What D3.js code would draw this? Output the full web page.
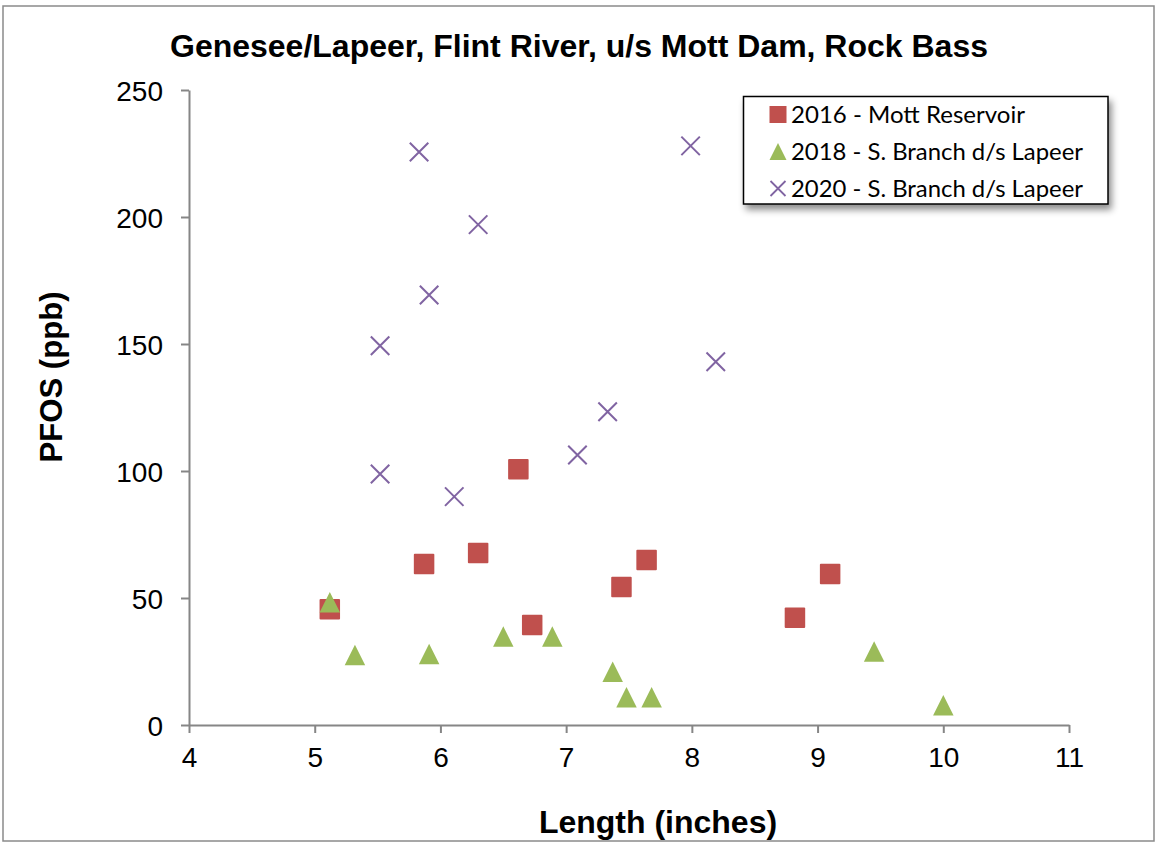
<!DOCTYPE html>
<html>
<head>
<meta charset="utf-8">
<script src="https://cdn.jsdelivr.net/npm/d3@7"></script>
<style>
  html, body { margin: 0; padding: 0; background: #fff; }
  svg { display: block; }
</style>
</head>
<body>
<svg id="chart" width="1156" height="842"></svg>
<script>
// ---- Data ----
const titleText = "Genesee/Lapeer, Flint River, u/s Mott Dam, Rock Bass";
const xLabel = "Length (inches)";
const yLabel = "PFOS (ppb)";
const xTicks = [4, 5, 6, 7, 8, 9, 10, 11];
const yTicks = [0, 50, 100, 150, 200, 250];

const seriesNames = ["2016 - Mott Reservoir", "2018 - S. Branch d/s Lapeer", "2020 - S. Branch d/s Lapeer"];

const len2016 = [5.12, 5.87, 6.30, 6.62, 6.73, 7.44, 7.64, 8.82, 9.10];
const pfos2016 = [45.6, 63.4, 67.7, 100.7, 39.4, 54.3, 65.0, 42.2, 59.4];

const len2018 = [5.12, 5.32, 5.91, 6.50, 6.89, 7.37, 7.48, 7.68, 9.45, 10.00];
const pfos2018 = [48.3, 27.6, 28.0, 34.8, 34.8, 21.0, 10.9, 10.9, 28.9, 7.8];

const len2020 = [5.83, 6.30, 5.91, 5.52, 5.52, 6.11, 7.99, 8.19, 7.33, 7.09];
const pfos2020 = [225.6, 197.0, 169.3, 149.3, 98.8, 89.9, 228.0, 143.0, 123.3, 106.3];

// ---- Layout ----
const svg = d3.select("#chart");
const W = 1156, H = 842;
const plot = { left: 189, right: 1069, top: 90, bottom: 725 };
const axisColor = "#868686";
const cRed = "#C0504D", cGreen = "#9BBB59", cPurple = "#8064A2";

svg.append("rect").attr("x", 0).attr("y", 0).attr("width", W).attr("height", H).attr("fill", "#fff");
svg.append("rect").attr("x", 3).attr("y", 6).attr("width", 1151).attr("height", 835)
  .attr("fill", "none").attr("stroke", "#8a8a8a").attr("stroke-width", 1.5);

const x = d3.scaleLinear().domain([4, 11]).range([plot.left, plot.right]);
const y = d3.scaleLinear().domain([0, 250]).range([plot.bottom, plot.top]);

// Title
svg.append("text")
  .attr("x", 579).attr("y", 57)
  .attr("text-anchor", "middle")
  .attr("font-family", "Liberation Sans, Arial, sans-serif")
  .attr("font-weight", "bold").attr("font-size", 32)
  .attr("textLength", 818).attr("lengthAdjust", "spacingAndGlyphs")
  .text(titleText);

// Axes
const xAxis = d3.axisBottom(x).tickValues(xTicks).tickSizeInner(8).tickSizeOuter(0).tickPadding(14)
  .tickFormat(d3.format("d"));
const yAxis = d3.axisLeft(y).tickValues(yTicks).tickSizeInner(8).tickSizeOuter(0).tickPadding(18)
  .tickFormat(d3.format("d"));

const gx = svg.append("g").attr("transform", `translate(0,${plot.bottom})`).call(xAxis);
const gy = svg.append("g").attr("transform", `translate(${plot.left},0)`).call(yAxis);

[gx, gy].forEach(g => {
  g.select(".domain").attr("stroke", axisColor).attr("stroke-width", 2);
  g.selectAll(".tick line").attr("stroke", axisColor).attr("stroke-width", 2);
  g.selectAll(".tick text")
    .attr("font-family", "Liberation Sans, Arial, sans-serif")
    .attr("font-size", 28).attr("fill", "#000");
});
gx.selectAll(".tick text").attr("dy", "0.71em");
gy.selectAll(".tick text").attr("dy", "0.36em");

// Axis titles
svg.append("text")
  .attr("x", 658).attr("y", 833)
  .attr("text-anchor", "middle")
  .attr("font-family", "Liberation Sans, Arial, sans-serif")
  .attr("font-weight", "bold").attr("font-size", 32)
  .text(xLabel);

svg.append("text")
  .attr("transform", "translate(62,377) rotate(-90)")
  .attr("text-anchor", "middle")
  .attr("font-family", "Liberation Sans, Arial, sans-serif")
  .attr("font-weight", "bold").attr("font-size", 32)
  .attr("textLength", 171).attr("lengthAdjust", "spacingAndGlyphs")
  .text(yLabel);

// Marker shapes
const sq = 20.5;
const triPath = (s) => `M0,${-s/2}L${s/2},${s/2}L${-s/2},${s/2}Z`;
const xPath = (s) => `M${-s/2},${-s/2}L${s/2},${s/2}M${-s/2},${s/2}L${s/2},${-s/2}`;

const d2016 = len2016.map((v, i) => ({ x: v, y: pfos2016[i] }));
const d2018 = len2018.map((v, i) => ({ x: v, y: pfos2018[i] }));
const d2020 = len2020.map((v, i) => ({ x: v, y: pfos2020[i] }));

svg.append("g").selectAll("rect").data(d2016).join("rect")
  .attr("x", d => x(d.x) - sq/2).attr("y", d => y(d.y) - sq/2)
  .attr("width", sq).attr("height", sq).attr("rx", 1)
  .attr("fill", cRed);

svg.append("g").selectAll("path").data(d2018).join("path")
  .attr("transform", d => `translate(${x(d.x)},${y(d.y)})`)
  .attr("d", triPath(20.5))
  .attr("fill", cGreen);

svg.append("g").selectAll("path").data(d2020).join("path")
  .attr("transform", d => `translate(${x(d.x)},${y(d.y)})`)
  .attr("d", xPath(18.5))
  .attr("fill", "none").attr("stroke", cPurple).attr("stroke-width", 2);

// Legend
const defs = svg.append("defs");
const f = defs.append("filter").attr("id", "shadow").attr("x", "-10%").attr("y", "-20%").attr("width", "130%").attr("height", "150%");
f.append("feDropShadow").attr("dx", 3).attr("dy", 5).attr("stdDeviation", 3.5)
  .attr("flood-color", "#000").attr("flood-opacity", 0.45);

const lg = svg.append("g");
lg.append("rect").attr("x", 743.5).attr("y", 96.5).attr("width", 364.5).attr("height", 107.5)
  .attr("fill", "#fff").attr("stroke", "#000").attr("stroke-width", 1.5)
  .attr("filter", "url(#shadow)");

const rowsY = [114.5, 151.5, 188.5];
const legendLen = [234, 292, 292];
const mx = 778;
lg.append("rect").attr("x", mx - 8.5).attr("y", rowsY[0] - 8.5).attr("width", 17).attr("height", 17).attr("fill", cRed);
lg.append("path").attr("transform", `translate(${mx},${rowsY[1]})`).attr("d", triPath(17)).attr("fill", cGreen);
lg.append("path").attr("transform", `translate(${mx},${rowsY[2]})`).attr("d", xPath(15))
  .attr("fill", "none").attr("stroke", cPurple).attr("stroke-width", 1.8);

seriesNames.forEach((name, i) => {
  lg.append("text")
    .attr("x", 791).attr("y", rowsY[i] + 8)
    .attr("font-family", "Lato, 'Open Sans', sans-serif")
    .attr("font-size", 23).attr("fill", "#000")
    .attr("textLength", legendLen[i]).attr("lengthAdjust", "spacingAndGlyphs")
    .text(name);
});
</script>
</body>
</html>
